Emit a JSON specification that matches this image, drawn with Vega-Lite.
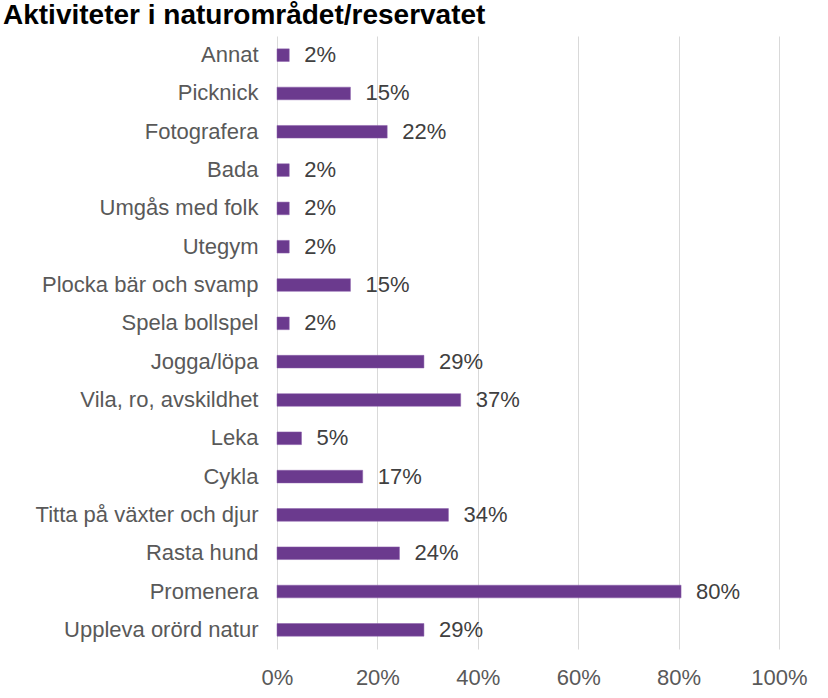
{
  "$schema": "https://vega.github.io/schema/vega-lite/v6.json",
  "width": 502,
  "height": 613,
  "autosize": {"type": "none"},
  "padding": {"left": 277, "top": 36, "right": 49, "bottom": 49},
  "background": "white",
  "title": {
    "text": "Aktiviteter i naturområdet/reservatet",
    "anchor": "start",
    "frame": "group",
    "dx": -274,
    "dy": 28,
    "offset": 12,
    "baseline": "alphabetic",
    "font": "Liberation Sans",
    "fontSize": 28,
    "fontWeight": "bold",
    "color": "#000000"
  },
  "data": {
    "values": [
      {"aktivitet": "Annat", "andel": 0.0244},
      {"aktivitet": "Picknick", "andel": 0.1463},
      {"aktivitet": "Fotografera", "andel": 0.2195},
      {"aktivitet": "Bada", "andel": 0.0244},
      {"aktivitet": "Umgås med folk", "andel": 0.0244},
      {"aktivitet": "Utegym", "andel": 0.0244},
      {"aktivitet": "Plocka bär och svamp", "andel": 0.1463},
      {"aktivitet": "Spela bollspel", "andel": 0.0244},
      {"aktivitet": "Jogga/löpa", "andel": 0.2927},
      {"aktivitet": "Vila, ro, avskildhet", "andel": 0.3659},
      {"aktivitet": "Leka", "andel": 0.0488},
      {"aktivitet": "Cykla", "andel": 0.1707},
      {"aktivitet": "Titta på växter och djur", "andel": 0.3415},
      {"aktivitet": "Rasta hund", "andel": 0.2439},
      {"aktivitet": "Promenera", "andel": 0.8049},
      {"aktivitet": "Uppleva orörd natur", "andel": 0.2927}
    ]
  },
  "encoding": {
    "y": {
      "field": "aktivitet",
      "type": "nominal",
      "sort": null,
      "scale": {"paddingInner": 0.67, "paddingOuter": 0.335},
      "axis": {
        "title": null,
        "domain": false,
        "ticks": false,
        "labelPadding": 19,
        "labelLimit": 300,
        "labelFont": "Liberation Sans",
        "labelFontSize": 22,
        "labelColor": "#595959",
        "grid": false
      }
    },
    "x": {
      "field": "andel",
      "type": "quantitative",
      "scale": {"domain": [0, 1]},
      "axis": {
        "title": null,
        "values": [0, 0.2, 0.4, 0.6, 0.8, 1],
        "format": ".0%",
        "domain": false,
        "ticks": false,
        "labelFlush": false,
        "labelPadding": 18,
        "labelFont": "Liberation Sans",
        "labelFontSize": 22,
        "labelColor": "#595959",
        "gridColor": "#D9D9D9",
        "gridWidth": 1
      }
    }
  },
  "layer": [
    {
      "mark": {"type": "bar", "color": "#6B3A8E", "stroke": "#8A5FAA", "strokeWidth": 0.5}
    },
    {
      "mark": {
        "type": "text",
        "align": "left",
        "baseline": "middle",
        "dx": 15,
        "dy": 0,
        "font": "Liberation Sans",
        "fontSize": 22,
        "color": "#404040"
      },
      "encoding": {
        "text": {"field": "andel", "type": "quantitative", "format": ".0%"}
      }
    }
  ],
  "config": {
    "view": {"stroke": null}
  }
}
